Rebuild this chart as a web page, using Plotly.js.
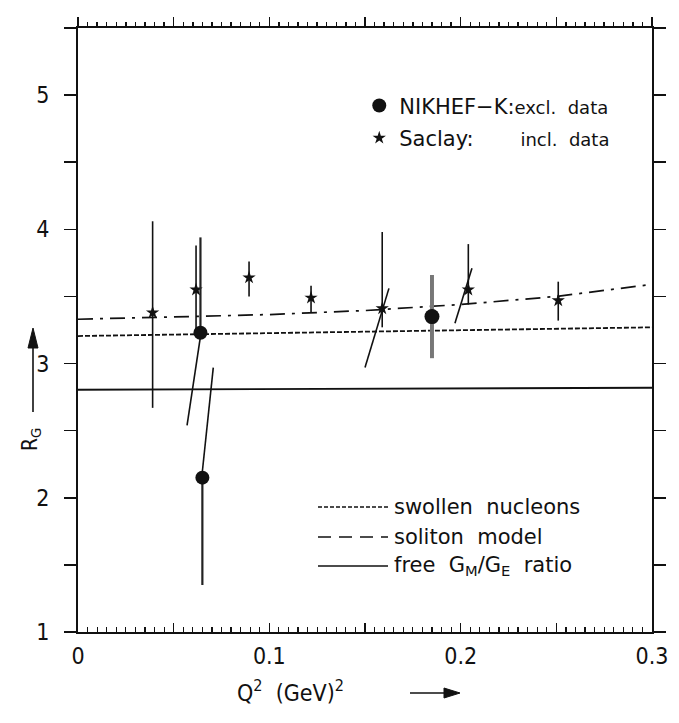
<!DOCTYPE html>
<html>
<head>
<meta charset="utf-8">
<script src="https://cdn.plot.ly/plotly-3.0.1.min.js"></script>
<style>html,body{margin:0;padding:0;background:#fff;}#chart{width:679px;height:723px;}</style>
</head>
<body>
<div id="chart"></div>
<script>
// NIKHEF-K exclusive data (circles)
const nikQ2 = [0.064, 0.065, 0.185];
const nikR = [3.23, 2.15, 3.35];
const nikErrUp = [0.71, 0.0, 0.31];
const nikErrDown = [0.0, 0.80, 0.31];

// Saclay inclusive data (stars)
const sacQ2 = [0.039, 0.0617, 0.0894, 0.1218, 0.159, 0.204, 0.251];
const sacR = [3.38, 3.55, 3.64, 3.49, 3.41, 3.55, 3.47];
const sacErrUp = [0.68, 0.33, 0.12, 0.09, 0.57, 0.34, 0.14];
const sacErrDown = [0.71, 0.30, 0.14, 0.11, 0.14, 0.11, 0.15];

// slanted uncertainty segments (pairs of points, null separated)
const slantQ2 = [0.0570, 0.0643, null, 0.0648, 0.0707, null, 0.150, 0.1625, null, 0.197, 0.2059];
const slantR = [2.54, 3.23, null, 2.17, 2.97, null, 2.97, 3.56, null, 3.30, 3.71];

// model curves
const modelQ2 = [0, 0.05, 0.1, 0.15, 0.2, 0.25, 0.3];
const swollen = [3.205, 3.215, 3.225, 3.235, 3.245, 3.255, 3.27];
const soliton = [3.33, 3.345, 3.365, 3.395, 3.44, 3.50, 3.59];
const freeRatio = [2.805, 2.807, 2.81, 2.812, 2.815, 2.818, 2.82];

// tick labels / positions
const xLabelVals = [0, 0.1, 0.2, 0.3];
const xLabelText = ['0', '0.1', '0.2', '0.3'];
const xHalfVals = [0.05, 0.15, 0.25];
const xAllVals = [0, 0.05, 0.1, 0.15, 0.2, 0.25, 0.3];
const yTickVals = [1, 2, 3, 4, 5];
const yTickText = ['1', '2', '3', '4', '5'];

const ink = '#111';
const condensed = '"DejaVu Sans Condensed", "Liberation Sans Narrow", "DejaVu Sans", sans-serif';
const tickFont = {family: condensed, size: 23, color: ink};
const textFont = {family: '"DejaVu Sans", sans-serif', size: 21, color: ink};

// plot area in pixels (for converting layout positions to paper units)
const PL = 78, PR = 652, PT = 28, PB = 632;
const px = v => (v - PL) / (PR - PL);
const py = v => (PB - v) / (PB - PT);

const dummy = ax => ({x: [0.15], y: [null], xaxis: ax, mode: 'markers', showlegend: false, hoverinfo: 'skip'});

const traces = [
  {x: modelQ2, y: swollen, mode: 'lines', line: {color: ink, width: 1.8, dash: '5px,2px'}, showlegend: false, hoverinfo: 'skip'},
  {x: modelQ2, y: soliton, mode: 'lines', line: {color: ink, width: 1.7, dash: '15px,7px,3px,7px'}, showlegend: false, hoverinfo: 'skip'},
  {x: modelQ2, y: freeRatio, mode: 'lines', line: {color: ink, width: 1.9}, showlegend: false, hoverinfo: 'skip'},
  {x: slantQ2, y: slantR, mode: 'lines', line: {color: ink, width: 1.6}, connectgaps: false, showlegend: false, hoverinfo: 'skip'},
  {x: sacQ2, y: sacR, mode: 'markers', name: 'Saclay:&nbsp;&nbsp;&nbsp;&nbsp;&nbsp;&nbsp;&nbsp;<span style="font-size:18px">incl.&nbsp;&nbsp;data</span>',
   legendgroup: 'b', legendrank: 2,
   marker: {symbol: 'star', size: 10, color: ink},
   error_y: {type: 'data', symmetric: false, array: sacErrUp, arrayminus: sacErrDown, color: ink, thickness: 1.6, width: 0}},
  {x: nikQ2.slice(0, 2), y: nikR.slice(0, 2), mode: 'markers', name: 'NIKHEF\u2212K:<span style="font-size:18px">excl.&nbsp;&nbsp;data</span>',
   legendgroup: 'a', legendrank: 1,
   marker: {symbol: 'circle', size: 14, color: ink},
   error_y: {type: 'data', symmetric: false, array: nikErrUp.slice(0, 2), arrayminus: nikErrDown.slice(0, 2), color: '#222', thickness: 2.2, width: 0}},
  {x: nikQ2.slice(2), y: nikR.slice(2), mode: 'markers', showlegend: false, legendgroup: 'a',
   marker: {symbol: 'circle', size: 15, color: ink},
   error_y: {type: 'data', symmetric: false, array: nikErrUp.slice(2), arrayminus: nikErrDown.slice(2), color: '#777', thickness: 4, width: 0}},
  dummy('x2'), dummy('x3'), dummy('x4')
];

// legend for line styles (paper coordinates)
const legRows = [
  {y: py(507), dash: '4px,2px', label: 'swollen&nbsp;&nbsp;nucleons'},
  {y: py(537), dash: '13px,8px', label: 'soliton&nbsp;&nbsp;model'},
  {y: py(566), dash: 'solid', label: 'free&nbsp;&nbsp;G<sub>M</sub>/G<sub>E</sub>&nbsp;&nbsp;ratio'}
];
const shapes = legRows.map(r => ({type: 'line', xref: 'paper', yref: 'paper', x0: px(318), x1: px(388), y0: r.y, y1: r.y,
  line: {color: ink, width: 1.7, dash: r.dash}}));
const annotations = legRows.map(r => ({xref: 'paper', yref: 'paper', x: px(392), y: r.y, xanchor: 'left', yanchor: 'middle',
  text: r.label, showarrow: false, font: textFont}));

// axis-title arrows (drawn as paths in paper units)
shapes.push(
  {type: 'path', xref: 'paper', yref: 'paper', line: {color: ink, width: 1.6},
   path: `M${px(410)},${py(693)} L${px(446)},${py(693)}`},
  {type: 'path', xref: 'paper', yref: 'paper', line: {color: ink, width: 1}, fillcolor: ink,
   path: `M${px(444)},${py(688)} L${px(460)},${py(693)} L${px(444)},${py(698)} Z`},
  {type: 'path', xref: 'paper', yref: 'paper', line: {color: ink, width: 1.6},
   path: `M${px(33)},${py(412)} L${px(33)},${py(345)}`},
  {type: 'path', xref: 'paper', yref: 'paper', line: {color: ink, width: 1}, fillcolor: ink,
   path: `M${px(28)},${py(348)} L${px(33)},${py(328)} L${px(38)},${py(348)} Z`}
);

annotations.push(
  {xref: 'paper', yref: 'paper', x: px(290), y: py(691), xanchor: 'center', yanchor: 'middle', showarrow: false,
   text: 'Q<sup>2</sup>&nbsp;&nbsp;(GeV)<sup>2</sup>', font: {family: condensed, size: 23, color: ink}},
  {xref: 'paper', yref: 'paper', x: px(31), y: py(440), xanchor: 'center', yanchor: 'middle', textangle: -90, showarrow: false,
   text: 'R<sub>G</sub>', font: {family: condensed, size: 21, color: ink}}
);

// overlay axis carrying only minor ticks (no labels at all)
const tickOnlyAxis = (side, dir, len, minorSpec, line) => Object.assign({
  range: [0, 0.3], overlaying: 'x', side: side, tickmode: 'array', tickvals: [], showticklabels: false,
  ticks: '', showline: line, linewidth: 2, linecolor: ink, showgrid: false, zeroline: false
}, {minor: Object.assign({ticks: dir, ticklen: len, tickwidth: 1.4, tickcolor: ink}, minorSpec)});

const layout = {
  width: 679, height: 723,
  margin: {l: 78, r: 27, t: 28, b: 91, pad: 0},
  paper_bgcolor: '#fff', plot_bgcolor: '#fff',
  showlegend: true,
  legend: {x: 0.49, y: 0.905, xanchor: 'left', yanchor: 'top', bgcolor: 'rgba(0,0,0,0)', font: textFont,
           tracegroupgap: 2, traceorder: 'grouped', itemwidth: 30},
  xaxis: {range: [0, 0.3], tickmode: 'array', tickvals: xLabelVals, ticktext: xLabelText,
          ticks: 'inside', ticklen: 9, tickwidth: 1.5, tickcolor: ink,
          minor: {dtick: 0.005, tick0: 0, ticks: 'inside', ticklen: 5, tickwidth: 1.2, tickcolor: ink},
          showline: true, linewidth: 2, linecolor: ink, showgrid: false, zeroline: false,
          tickfont: tickFont, ticklabelstandoff: 2, fixedrange: true},
  xaxis3: tickOnlyAxis('bottom', 'inside', 9, {tickmode: 'array', tickvals: xHalfVals}, false),
  xaxis2: tickOnlyAxis('top', 'outside', 9, {tickmode: 'array', tickvals: xAllVals}, true),
  xaxis4: tickOnlyAxis('top', 'outside', 5, {tickmode: 'linear', tick0: 0, dtick: 0.005}, false),
  yaxis: {range: [1, 5.5], tickmode: 'array', tickvals: yTickVals, ticktext: yTickText,
          ticks: 'outside', ticklen: 12, tickwidth: 1.5, tickcolor: ink,
          minor: {dtick: 0.5, tick0: 1, ticks: 'outside', ticklen: 12, tickwidth: 1.5, tickcolor: ink},
          showline: true, linewidth: 2, linecolor: ink, mirror: 'ticks', showgrid: false, zeroline: false,
          tickfont: tickFont, ticklabelstandoff: 10, fixedrange: true},
  shapes: shapes,
  annotations: annotations
};

Plotly.newPlot('chart', traces, layout, {displayModeBar: false, staticPlot: true});
</script>
</body>
</html>
